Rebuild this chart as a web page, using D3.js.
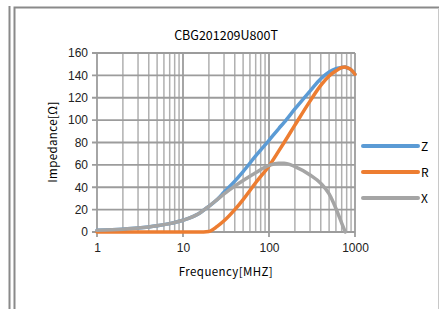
<html>
<head>
<script src="https://d3js.org/d3.v7.min.js"></script>
<style>
body { margin: 0; background: #fff; }
.grid line { stroke: #b0b0b0; stroke-width: 1.5; }
.grid .major { stroke: #9c9c9c; stroke-width: 1.8; }
.tick text { font-family: "Liberation Sans", Arial, sans-serif; font-size: 12px; fill: #222; }
</style>
</head>
<body>
<svg id="all" width="439" height="309"></svg>
<script>
const freqs = [1, 2, 3, 5, 7, 10, 15, 20, 25, 30, 40, 50, 70, 100, 130, 150, 200, 300, 400, 500, 600, 700, 770, 800, 900, 1000];
const zVals = [1.5, 2.5, 3.5, 5.5, 7.5, 10.5, 16, 23, 29, 35.5, 45.5, 54, 68, 82, 92.5, 98, 110, 126, 137, 143, 146, 147, 147.5, 147, 145, 141];
const rVals = [0, 0, 0, 0, 0, 0, 0, 0.5, 5, 10, 20, 29, 44, 59, 72.5, 80, 95.5, 117, 131, 139.5, 144, 147, 147.5, 147, 145, 141];
const xVals = [1.5, 2.5, 3.5, 5.5, 7.5, 10.5, 16, 23, 29, 34, 41, 46, 53, 59.5, 61.5, 61.5, 58.5, 51, 43.5, 34, 21, 8, 0, null, null, null];
const seriesNames = ["Z", "R", "X"];
const seriesColors = ["#5b9bd5", "#ed7d31", "#a5a5a5"];
const yTicks = [0, 20, 40, 60, 80, 100, 120, 140, 160];
const xTicks = [1, 10, 100, 1000];

const svg = d3.select("svg#all");

// frames
svg.append("line").attr("x1", 9.5).attr("x2", 9.5).attr("y1", 6).attr("y2", 309)
   .attr("stroke", "#8a8a8a").attr("stroke-width", 2);
svg.append("path").attr("d", "M14.5,309 V7.5 H439")
   .attr("fill", "none").attr("stroke", "#8a8a8a").attr("stroke-width", 2);
svg.append("line").attr("x1", 438.5).attr("x2", 438.5).attr("y1", 8).attr("y2", 309)
   .attr("stroke", "#c8c8c8").attr("stroke-width", 1);

const margin = {left: 97, right: 84, top: 53, bottom: 77};
const w = 439 - margin.left - margin.right;
const h = 309 - margin.top - margin.bottom;

const x = d3.scaleLog().domain([1, 1000]).range([0, w]);
const y = d3.scaleLinear().domain([0, 160]).range([h, 0]);

const g = svg.append("g").attr("transform", `translate(${margin.left},${margin.top})`);

// gridlines
const minor = [];
for (let d = 1; d < 1000; d *= 10) for (let k = 1; k <= 9; k++) minor.push(d * k);
minor.push(1000);
const grid = g.append("g").attr("class", "grid");
grid.selectAll("line.v").data(minor).join("line")
    .attr("class", d => xTicks.includes(d) ? "v major" : "v")
    .attr("x1", d => x(d)).attr("x2", d => x(d))
    .attr("y1", 0).attr("y2", d => xTicks.includes(d) ? h + 5 : h);
grid.selectAll("line.h").data(yTicks).join("line")
    .attr("class", "h major")
    .attr("x1", -5).attr("x2", w)
    .attr("y1", d => y(d)).attr("y2", d => y(d));

// axes (labels only)
g.append("g").call(d3.axisLeft(y).tickValues(yTicks).tickSize(0).tickPadding(9))
 .call(a => a.select(".domain").remove());
g.append("g").attr("transform", `translate(0,${h})`)
 .call(d3.axisBottom(x).tickValues(xTicks).tickFormat(d3.format("d")).tickSize(0).tickPadding(11))
 .call(a => a.select(".domain").remove());

// curves, X drawn last so it sits on top
const allVals = [zVals, rVals, xVals];
const line = d3.line()
    .defined(d => d[1] !== null)
    .x(d => x(d[0])).y(d => y(d[1]))
    .curve(d3.curveMonotoneX);
allVals.forEach((vals, idx) => {
    g.append("path")
     .datum(freqs.map((f, j) => [f, vals[j]]))
     .attr("d", line)
     .attr("fill", "none")
     .attr("stroke", seriesColors[idx])
     .attr("stroke-width", 3.5)
     .attr("stroke-linecap", "round");
});

// title and axis titles
svg.append("text").attr("x", 226).attr("y", 40).attr("text-anchor", "middle")
   .style("font-family", "'Noto Sans CJK JP', sans-serif").style("font-size", "12.5px")
   .text("CBG201209U800T");
svg.append("text").attr("x", 226).attr("y", 276).attr("text-anchor", "middle")
   .style("font-family", "'Noto Sans CJK JP', sans-serif").style("font-size", "11.5px")
   .style("letter-spacing", "0.4px")
   .text("Frequency[MHZ]");
svg.append("text").attr("transform", "translate(57,142) rotate(-90)").attr("text-anchor", "middle")
   .style("font-family", "'Noto Sans CJK JP', sans-serif").style("font-size", "11.5px")
   .style("letter-spacing", "0.4px")
   .text("Impedance[Ω]");

// legend
const leg = svg.append("g").selectAll("g").data(seriesNames).join("g")
    .attr("transform", (d, i) => `translate(363,${146 + i * 26})`);
leg.append("line").attr("x1", 0).attr("x2", 55)
   .attr("stroke", (d, i) => seriesColors[i]).attr("stroke-width", 4).attr("stroke-linecap", "round");
leg.append("text").attr("x", 58).attr("y", 5)
   .style("font-family", "'Noto Sans CJK JP', sans-serif").style("font-size", "12px")
   .text(d => d);
</script>
</body>
</html>
